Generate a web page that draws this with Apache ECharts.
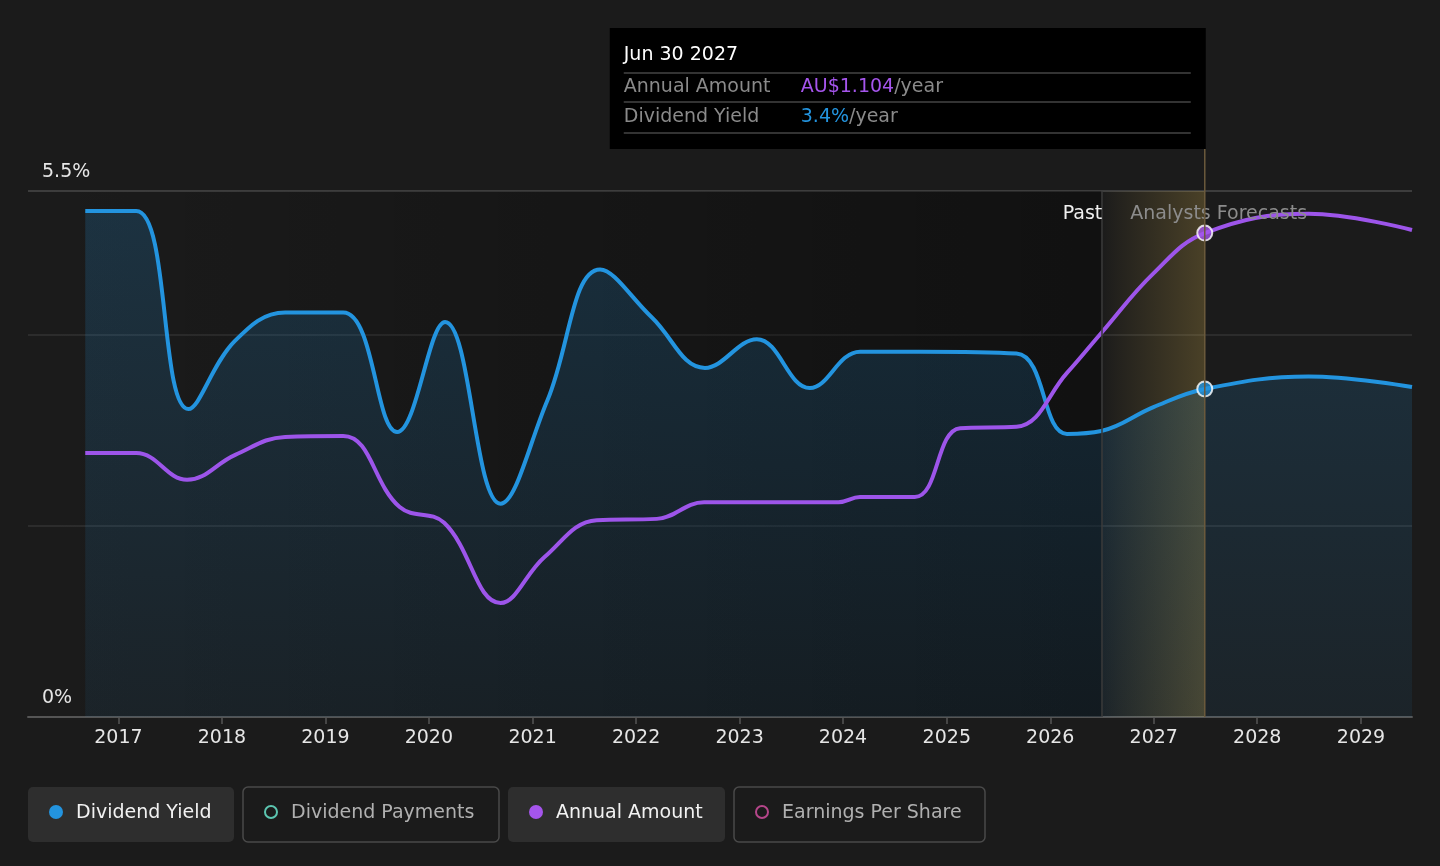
<!DOCTYPE html>
<html>
<head>
<meta charset="utf-8">
<script src="https://cdn.jsdelivr.net/npm/echarts@6/dist/echarts.min.js"></script>
<style>
html,body{margin:0;padding:0;background:#1b1b1b;}
#chart{width:1440px;height:866px;}
</style>
</head>
<body>
<div id="chart"></div>
<script>
// ---- data ----
const yieldDates = ['2016-09-06','2017-03-05','2017-09-05','2018-02-15','2018-08-12','2019-03-05','2019-09-11','2020-02-27','2020-09-10','2021-02-22','2021-08-27','2022-02-25','2022-09-01','2023-03-03','2023-09-06','2024-03-01','2024-09-28','2025-09-04','2026-03-01','2026-06-30','2026-12-31','2027-06-30','2028-06-30','2029-06-30'];
const yieldValues = [5.29,5.29,3.22,3.93,4.23,4.23,2.98,4.13,2.23,3.31,4.68,4.18,3.65,3.95,3.44,3.82,3.82,3.80,2.96,2.99,3.24,3.43,3.56,3.45];
const amountDates = ['2016-09-06','2017-03-05','2017-08-31','2018-02-17','2018-08-12','2019-03-05','2019-09-20','2020-02-24','2020-09-10','2021-02-12','2021-08-15','2022-03-15','2022-08-29','2023-12-16','2024-03-01','2024-09-10','2025-02-17','2025-09-04','2026-03-01','2026-06-30','2026-12-31','2027-06-30','2028-06-30','2029-06-30'];
const amountValues = [0.602,0.602,0.541,0.598,0.639,0.641,0.479,0.443,0.260,0.365,0.449,0.452,0.490,0.490,0.502,0.502,0.659,0.662,0.785,0.876,1.012,1.104,1.148,1.111];
const yTickLabels = {0:'0%', 5.5:'5.5%'};
const pastEnd = '2026-06-30';
const focusDate = '2027-06-30';
const focusLabel = 'Jun 30 2027';
const legendItems = [
  {name:'Dividend Yield', color:'#2394df', active:true},
  {name:'Dividend Payments', color:'#5cc5b0', active:false},
  {name:'Annual Amount', color:'#a555ec', active:true},
  {name:'Earnings Per Share', color:'#b5468a', active:false}
];

const FONT = 'DejaVu Sans';
const BLUE = '#2394df';
const PURPLE = '#9d55ea';
const chart = echarts.init(document.getElementById('chart'));
const zip = (d, v) => d.map((x, i) => [x, v[i]]);
const fi = amountDates.indexOf(focusDate);
const fy = yieldDates.indexOf(focusDate);

chart.setOption({
  backgroundColor: '#1b1b1b',
  animation: false,
  textStyle: {fontFamily: FONT},
  grid: {left: 28, right: 28, top: 191, bottom: 149},
  xAxis: {
    type: 'time',
    min: '2016-02-17', max: '2029-06-30',
    minInterval: 365 * 864e5, maxInterval: 366 * 864e5,
    axisLine: {lineStyle: {color: '#555', width: 2}},
    axisTick: {show: true, length: 7, lineStyle: {color: '#555', width: 1.5}},
    splitLine: {show: false},
    axisLabel: {
      color: '#e6e6e6', fontSize: 19, margin: 12, fontFamily: FONT,
      formatter: v => { const d = new Date(v); return (d.getMonth() === 0 && d.getDate() === 1) ? String(d.getFullYear()) : ''; }
    }
  },
  yAxis: [{
    type: 'value', min: 0, max: 5.5, interval: 2,
    axisLine: {show: false}, axisTick: {show: false},
    splitLine: {lineStyle: {color: ['#333', '#333', '#333', '#4a4a4a'], width: 1.5}},
    axisLabel: {
      inside: true, margin: 14, color: '#e6e6e6', fontSize: 19, fontFamily: FONT,
      verticalAlign: 'bottom', padding: [0, 0, 9, 0],
      formatter: v => yTickLabels[v] || ''
    }
  }, {
    type: 'value', min: 0, max: 1.2, show: false, splitLine: {show: false}
  }],
  series: [
    {
      name: 'shade', type: 'line', data: [], z: 0, silent: true,
      markArea: {
        silent: true,
        itemStyle: {color: new echarts.graphic.LinearGradient(0, 0, 1, 0, [
          {offset: 0, color: 'rgba(0,0,0,0)'}, {offset: 1, color: 'rgba(0,0,0,0.38)'}])},
        data: [[{xAxis: '2016-02-17'}, {xAxis: pastEnd}]]
      },
      markLine: {
        silent: true, symbol: 'none', label: {show: false},
        lineStyle: {color: '#3a3a3a', width: 1.5, type: 'solid'},
        data: [{xAxis: pastEnd}]
      }
    },
    {
      name: 'Dividend Yield', type: 'line', data: zip(yieldDates, yieldValues),
      smooth: 0.4, showSymbol: false, z: 3,
      lineStyle: {color: BLUE, width: 4},
      areaStyle: {color: new echarts.graphic.LinearGradient(0, 0, 0, 1, [
        {offset: 0, color: 'rgba(35,148,223,0.28)'}, {offset: 1, color: 'rgba(35,148,223,0.1)'}])}
    },
    {
      name: 'Annual Amount', type: 'line', yAxisIndex: 1, data: zip(amountDates, amountValues),
      smooth: 0.4, showSymbol: false, z: 4,
      lineStyle: {color: PURPLE, width: 4}
    },
    {
      name: 'band', type: 'line', data: [], z: 6, silent: true,
      markArea: {
        silent: true,
        itemStyle: {color: new echarts.graphic.LinearGradient(0, 0, 1, 0, [
          {offset: 0, color: 'rgba(230,190,80,0)'}, {offset: 0.15, color: 'rgba(230,190,80,0.04)'},
          {offset: 1, color: 'rgba(230,190,80,0.23)'}])},
        data: [[{xAxis: pastEnd}, {xAxis: focusDate}]]
      }
    },
    {
      name: 'yieldDot', type: 'scatter', data: [[focusDate, yieldValues[fy]]], z: 8,
      symbolSize: 15, itemStyle: {color: BLUE, borderColor: '#fff', borderWidth: 2}
    },
    {
      name: 'amountDot', type: 'scatter', yAxisIndex: 1, data: [[focusDate, amountValues[fi]]], z: 8,
      symbolSize: 15, itemStyle: {color: '#a555ec', borderColor: '#fff', borderWidth: 2}
    }
  ]
});

const pd = s => echarts.number.parseDate(s).getTime();
const px = chart.convertToPixel({xAxisIndex: 0}, pd(focusDate));
const pb = chart.convertToPixel({xAxisIndex: 0}, pd(pastEnd));
const yBottom = chart.convertToPixel({yAxisIndex: 0}, 0);
const yTop = chart.convertToPixel({yAxisIndex: 0}, 5.5);

const tipW = 596, tipTop = 28, tipH = 121;
const tl = px - tipW + 1;
const graphics = [
  {type: 'line', shape: {x1: px, y1: tipTop + tipH, x2: px, y2: yBottom}, style: {stroke: '#6b5a3c', lineWidth: 1.5}, z: 50},
  {type: 'rect', shape: {x: tl, y: tipTop, width: tipW, height: tipH}, style: {fill: '#000'}, z: 60},
  {type: 'text', x: tl + 14, y: tipTop + 27, style: {text: focusLabel, fill: '#fff', font: '19px ' + FONT, verticalAlign: 'middle'}, z: 61},
  {type: 'line', shape: {x1: tl + 14, y1: tipTop + 45, x2: px - 14, y2: tipTop + 45}, style: {stroke: '#444', lineWidth: 1.5}, z: 61},
  {type: 'text', x: tl + 14, y: tipTop + 59, style: {text: 'Annual Amount', fill: '#8a8a8a', font: '19px ' + FONT, verticalAlign: 'middle'}, z: 61},
  {type: 'text', x: tl + 191, y: tipTop + 59, style: {
    text: '{a|AU$' + amountValues[fi].toFixed(3) + '}{b|/year}', verticalAlign: 'middle',
    rich: {a: {fill: '#a555ec', font: '19px ' + FONT}, b: {fill: '#8a8a8a', font: '19px ' + FONT}}}, z: 61},
  {type: 'line', shape: {x1: tl + 14, y1: tipTop + 74, x2: px - 14, y2: tipTop + 74}, style: {stroke: '#444', lineWidth: 1.5}, z: 61},
  {type: 'text', x: tl + 14, y: tipTop + 89, style: {text: 'Dividend Yield', fill: '#8a8a8a', font: '19px ' + FONT, verticalAlign: 'middle'}, z: 61},
  {type: 'text', x: tl + 191, y: tipTop + 89, style: {
    text: '{a|' + yieldValues[fy].toFixed(1) + '%}{b|/year}', verticalAlign: 'middle',
    rich: {a: {fill: BLUE, font: '19px ' + FONT}, b: {fill: '#8a8a8a', font: '19px ' + FONT}}}, z: 61},
  {type: 'line', shape: {x1: tl + 14, y1: tipTop + 105, x2: px - 14, y2: tipTop + 105}, style: {stroke: '#444', lineWidth: 1.5}, z: 61},
  {type: 'text', x: pb + 1, y: yTop + 23, style: {text: 'Past', fill: '#f0f0f0', font: '19px ' + FONT, align: 'right', verticalAlign: 'middle'}, z: 40},
  {type: 'text', x: pb + 29, y: yTop + 23, style: {text: 'Analysts Forecasts', fill: '#8c8c8c', font: '19px ' + FONT, align: 'left', verticalAlign: 'middle'}, z: 40}
];

// legend buttons
const legW = [206, 256, 217, 251];
let lx = 28;
legendItems.forEach((it, i) => {
  const w = legW[i];
  graphics.push({type: 'rect', shape: {x: lx, y: 787, width: w, height: 55, r: 5},
    style: it.active ? {fill: '#2e2e2e'} : {fill: '#1b1b1b', stroke: '#4a4a4a', lineWidth: 1.5}, z: 10});
  graphics.push({type: 'circle', shape: {cx: lx + 28, cy: 812, r: it.active ? 7 : 6},
    style: it.active ? {fill: it.color} : {fill: 'none', stroke: it.color, lineWidth: 2}, z: 11});
  graphics.push({type: 'text', x: lx + 48, y: 813, style: {text: it.name, fill: it.active ? '#f2f2f2' : '#b0b0b0', font: '19px ' + FONT, verticalAlign: 'middle'}, z: 11});
  lx += w + 9;
});
chart.setOption({graphic: graphics});
</script>
</body>
</html>
